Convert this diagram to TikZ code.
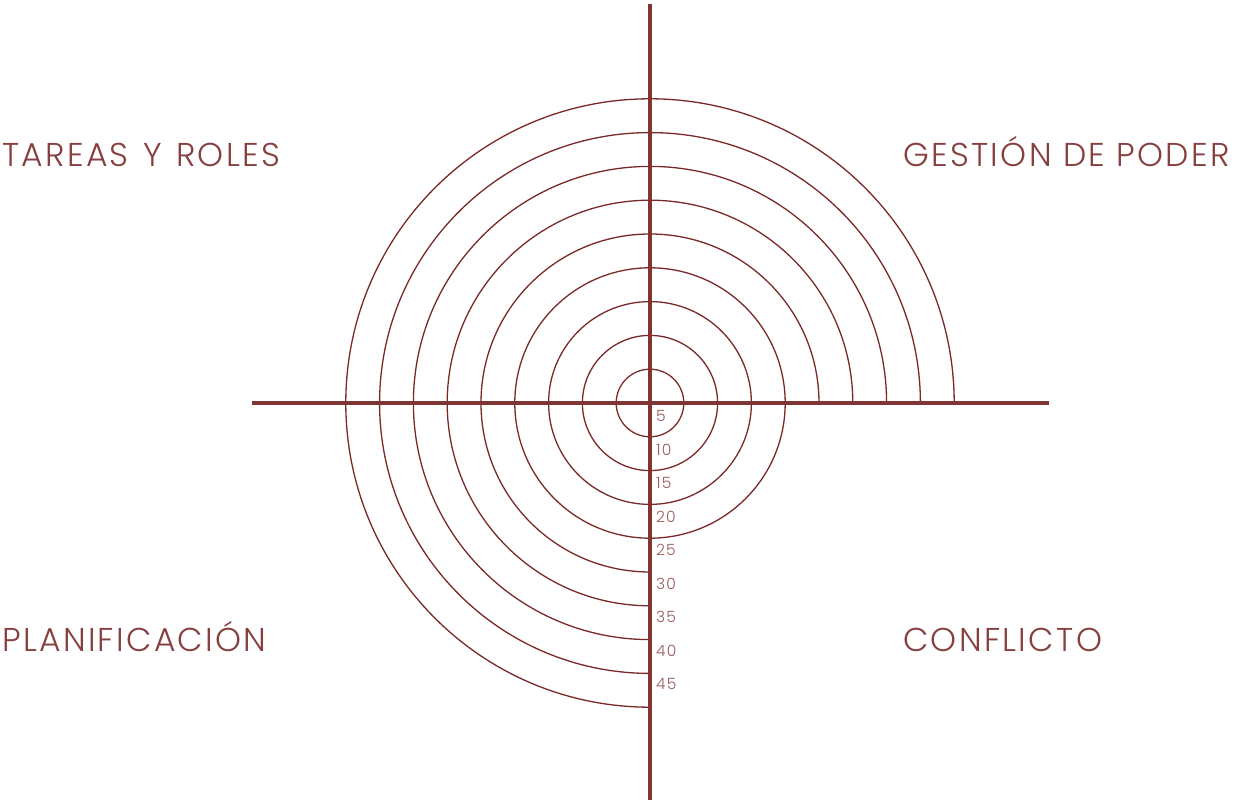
\documentclass[tikz,border=0pt]{standalone}
\usepackage{fontspec}
\setmainfont{Poppins Light}
\newfontfamily\widefont{Poppins Light}[LetterSpace=7]
\usepackage{xcolor}
\usetikzlibrary{positioning}
\definecolor{axisred}{RGB}{128,52,52}
\definecolor{ringred}{RGB}{122,40,40}
\definecolor{textred}{RGB}{135,62,62}

\begin{document}
\begin{tikzpicture}[
  x=1pt, y=1pt,
  axis/.style={draw=axisred, line width=4.5pt},
  ring/.style={draw=ringred, line width=1.3pt},
  quadlabel/.style={anchor=base west, inner sep=0pt, text=textred, font=\widefont\fontsize{33}{33}\selectfont},
  scalelabel/.style={anchor=west, inner sep=0pt, text=textred!85, font=\widefont\fontsize{15.5}{15.5}\selectfont}
]
\useasboundingbox (-650,-400) rectangle (585,403);
\coordinate (o) at (0,0);
% rings: full circles up to 20, three quarters beyond
\foreach \k in {1,...,9}{
  \pgfmathsetmacro{\r}{33.8*\k}
  \ifnum\k<5
    \draw[ring] (o) circle[radius=\r];
  \else
    \draw[ring] (\r,0) arc[start angle=0, end angle=270, radius=\r];
  \fi
}
% axes
\coordinate (top) at (0,399);
\coordinate (bottom) at (0,-397);
\coordinate (left) at (-398,0);
\coordinate (right) at (399,0);
\draw[axis] (left) -- (right);
\draw[axis] (top) -- (bottom);
% scale
\foreach \k in {1,...,9}{
  \pgfmathtruncatemacro{\v}{5*\k}
  \node[scalelabel] (s\k) at (6,{-(33.5*\k-20.5)}) {\v};
}
% quadrant titles
\node[quadlabel] (roles) at (-648,236.5) {TAREAS\hspace{3pt} Y\hspace{3pt} ROLES};
\node[quadlabel] (poder) at (253,236.5) {GESTIÓN DE PODER};
\node[quadlabel] (plan) at (-648,-248.5) {PLANIFICACIÓN};
\node[quadlabel] (conf) at (253,-248.5) {CONFLICTO};
\end{tikzpicture}
\end{document}
